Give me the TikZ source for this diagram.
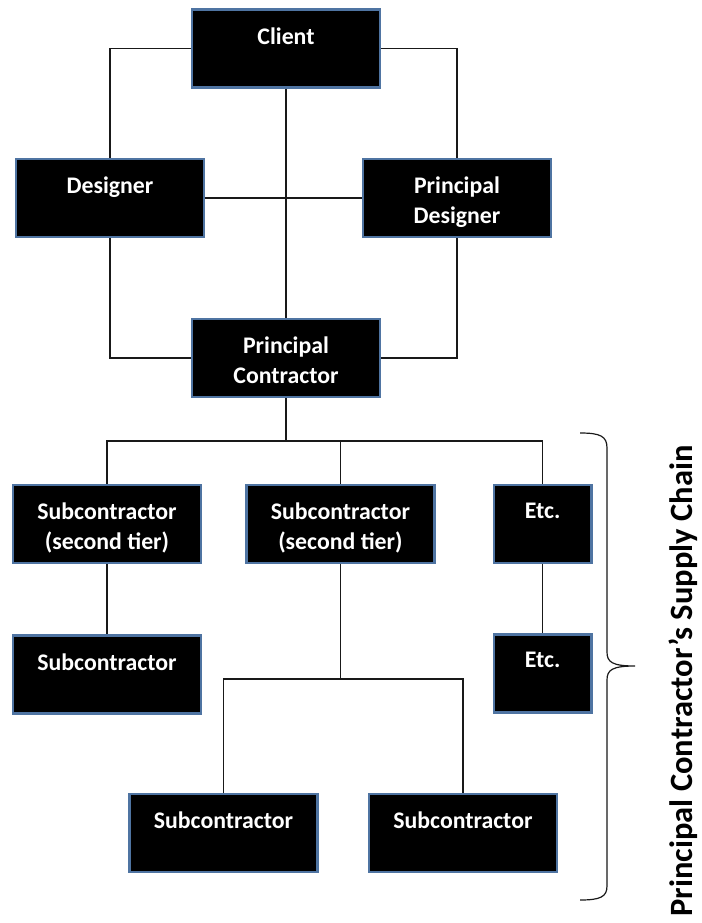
\documentclass[tikz,border=0pt]{standalone}
\usepackage{fontspec}
\setmainfont{Carlito}
\usepackage{tikz}
\usetikzlibrary{positioning}

\definecolor{edgeblue}{RGB}{79,116,162}

\begin{document}
\begin{tikzpicture}[
    x=1pt, y=-1pt,
    unit/.style={draw=edgeblue, line width=2.4pt, fill=black, minimum width=188pt, minimum height=78pt, inner sep=0pt,
      label={[unittext]north:#1}},
    narrow/.style={minimum width=97.6pt},
    unittext/.style={anchor=north, yshift=-19pt, inner sep=0pt, text=white, align=center,
      font=\bfseries\fontsize{23.8}{29.5}\selectfont},
    wire/.style={draw=black!90, line width=1.2pt},
  ]
    \useasboundingbox (0,0) rectangle (701,923);

    \node[unit=Client] (client) at (286,48.5) {};
    \node[unit=Designer] (designer) at (110,198) {};
    \node[unit={Principal\\Designer}] (pd) at (457,198) {};
    \node[unit={Principal\\Contractor}, below=229pt of client] (pc) {};

    \node[unit={Subcontractor\\(second tier)}] (tiera) at (107,524) {};
    \node[unit={Subcontractor\\(second tier)}, right=43pt of tiera] (tierb) {};
    \node[unit=Etc., narrow, right=57pt of tierb] (etca) {};

    \node[unit=Subcontractor, below=70pt of tiera] (suba) {};
    \node[unit=Etc., narrow, below=69pt of etca] (etcb) {};

    \node[unit=Subcontractor] (subb) at (223.5,833) {};
    \node[unit=Subcontractor, right=49pt of subb] (subc) {};

    \coordinate (bus) at (0,441);
    \coordinate (split) at (0,679);

    % top diamond
    \draw[wire] (client.west) -| (designer.north);
    \draw[wire] (client.east) -| (pd.north);
    \draw[wire] (client.south) -- (pc.north);
    \draw[wire] (designer.east) -- (pd.west);
    \draw[wire] (designer.south) |- (pc.west);
    \draw[wire] (pd.south) |- (pc.east);

    % supply chain
    \draw[wire] (pc.south) -- (pc.south |- bus);
    \draw[wire] (tiera.north) |- (etca.north |- bus) -- (etca.north);
    \draw[wire] (tierb.north) -- (tierb.north |- bus);
    \draw[wire] (tiera.south) -- (suba.north);
    \draw[wire] (etca.south) -- (etcb.north);
    \draw[wire] (tierb.south) -- (tierb.south |- split);
    \draw[wire] (subb.north) |- (subc.north |- split) -- (subc.north);

    % brace and its caption
    \draw[wire] (580,433) .. controls (600,433) and (607,436) .. (607,448) -- (607,652)
      .. controls (607,662) and (612,666) .. (635,666)
      .. controls (612,666) and (607,670) .. (607,680) -- (607,886)
      .. controls (607,897) and (600,900) .. (580,900);
    \node[rotate=90, inner sep=0pt, font=\bfseries\fontsize{32.5}{36}\selectfont] (chain) at (683,681)
      {Principal Contractor’s Supply Chain};
  \end{tikzpicture}
\end{document}
